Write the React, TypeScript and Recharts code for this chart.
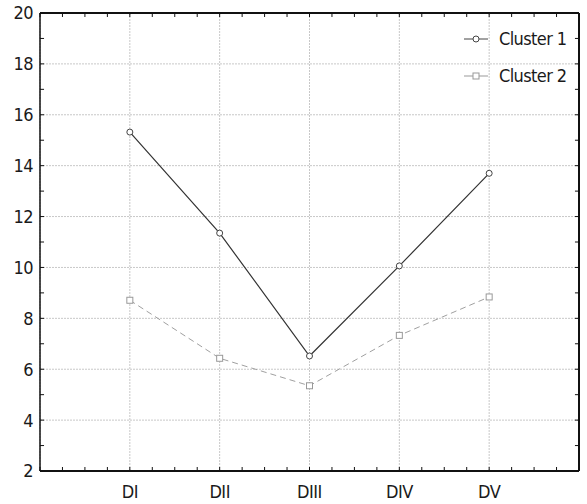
import React from 'react';
import { LineChart, Line, XAxis, YAxis, CartesianGrid, ReferenceLine } from 'recharts';

const categories = ['DI', 'DII', 'DIII', 'DIV', 'DV'];
const cluster1 = [15.32, 11.35, 6.52, 10.06, 13.7];
const cluster2 = [8.71, 6.43, 5.35, 7.33, 8.84];
const seriesNames = ['Cluster 1', 'Cluster 2'];
const xTicks = [1, 2, 3, 4, 5];
const yTicks = [2, 4, 6, 8, 10, 12, 14, 16, 18, 20];
// minor ticks on the frame: quarter steps on x, unit steps on y
const xMinor = Array.from({ length: 25 }, (_, i) => i * 0.25);
const yMinor = Array.from({ length: 19 }, (_, i) => i + 2);

const data = categories.map((name, i) => ({ x: i + 1, name, c1: cluster1[i], c2: cluster2[i] }));

const FONT = "'DejaVu Sans', sans-serif";
const tickStyle = { fontSize: 18, fill: '#1a1a1a', fontFamily: FONT, fontStretch: 'condensed', letterSpacing: -0.5 } as any;

// tick lengths in data units (~4px)
const XT = 0.157;
const YT = 0.045;

const SquareDot = (props: any) => {
  const { cx, cy } = props;
  if (cx == null || cy == null) return null;
  return <rect x={cx - 3} y={cy - 3} width={6} height={6} fill="#fff" stroke="#999" strokeWidth={1} />;
};

const LegendBox = () => (
  <div
    style={{
      position: 'absolute',
      left: 463,
      top: 20,
      fontFamily: FONT,
      fontStretch: 'condensed',
      letterSpacing: -0.6,
      fontSize: 18,
      color: '#1a1a1a',
    }}
  >
    {seriesNames.map((s, i) => (
      <div key={s} style={{ display: 'flex', alignItems: 'center', height: 37 }}>
        <svg width={26} height={10} style={{ marginRight: 10 }}>
          <line x1={1} y1={5} x2={25} y2={5} stroke={i === 0 ? '#444' : '#999'} strokeWidth={1} />
          {i === 0 ? (
            <circle cx={13} cy={5} r={3} fill="#fff" stroke="#444" />
          ) : (
            <rect x={10} y={2} width={6} height={6} fill="#fff" stroke="#999" />
          )}
        </svg>
        <span>{s}</span>
      </div>
    ))}
  </div>
);

export default function App() {
  return (
    <div style={{ position: 'absolute', left: 0, top: 0, width: 587, height: 504, background: '#fff' }}>
      <LineChart width={587} height={504} data={data} margin={{ top: 13, right: 8, bottom: 0, left: 0 }}>
        <CartesianGrid stroke="#c8c8c8" strokeDasharray="2 1" />
        <XAxis
          dataKey="x"
          type="number"
          domain={[0, 6]}
          ticks={xTicks}
          tickFormatter={(v: number) => categories[v - 1] ?? ''}
          height={33}
          tickSize={0}
          tickMargin={14}
          tickLine={false}
          axisLine={{ stroke: '#111', strokeWidth: 2 }}
          tick={tickStyle}
        />
        <YAxis
          type="number"
          domain={[2, 20]}
          ticks={yTicks}
          width={40}
          tickSize={0}
          tickMargin={7}
          tickLine={false}
          axisLine={{ stroke: '#111', strokeWidth: 1.5 }}
          tick={tickStyle}
        />
        <ReferenceLine y={20} stroke="#111" strokeWidth={2} />
        <ReferenceLine x={6} stroke="#111" strokeWidth={2} />
        {xMinor.map((t) => (
          <ReferenceLine key={`xb${t}`} segment={[{ x: t, y: 2 }, { x: t, y: 2 + XT }]} stroke="#111" />
        ))}
        {xMinor.map((t) => (
          <ReferenceLine key={`xt${t}`} segment={[{ x: t, y: 20 }, { x: t, y: 20 - XT }]} stroke="#111" />
        ))}
        {yMinor.map((t) => (
          <ReferenceLine key={`yl${t}`} segment={[{ x: 0, y: t }, { x: YT, y: t }]} stroke="#111" />
        ))}
        {yMinor.map((t) => (
          <ReferenceLine key={`yr${t}`} segment={[{ x: 6, y: t }, { x: 6 - YT, y: t }]} stroke="#111" />
        ))}
        <Line
          dataKey="c1"
          name={seriesNames[0]}
          stroke="#333"
          strokeWidth={1.2}
          dot={{ r: 3, fill: '#fff', stroke: '#444', strokeWidth: 1 }}
          activeDot={false}
          isAnimationActive={false}
        />
        <Line
          dataKey="c2"
          name={seriesNames[1]}
          stroke="#a0a0a0"
          strokeWidth={1}
          strokeDasharray="6 4"
          dot={<SquareDot />}
          activeDot={false}
          isAnimationActive={false}
        />
      </LineChart>
      <LegendBox />
    </div>
  );
}
